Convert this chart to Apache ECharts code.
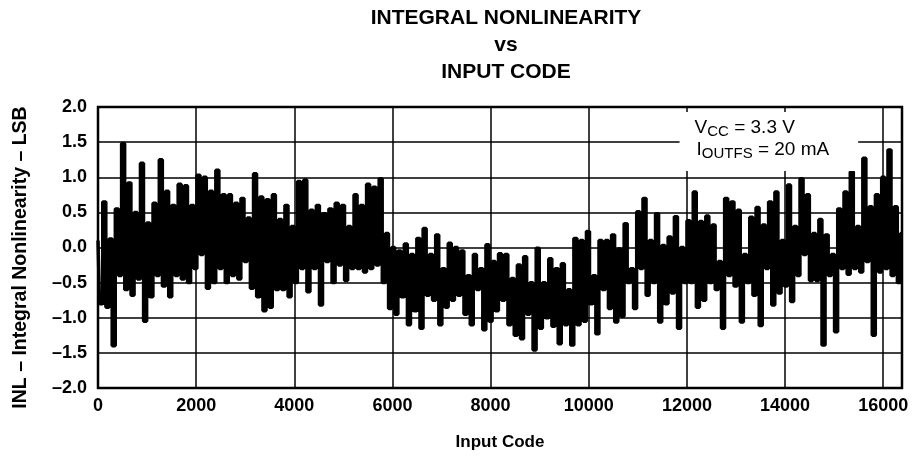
<!DOCTYPE html>
<html>
<head>
<meta charset="utf-8">
<script src="https://cdn.jsdelivr.net/npm/echarts@6/dist/echarts.min.js"></script>
<style>
  html, body { margin: 0; padding: 0; background: #fff; }
  #inlChart { width: 912px; height: 462px; }
</style>
</head>
<body>
<div id="inlChart"></div>
<script>
// INL vs input code, one reading every 64 codes
var codeStep = 64;
var lastCode = 16383;
var inl = [
    0.1, -0.8, 0.65, -0.85, 0.12, -1.4, 0.55, -0.4, 1.48, -0.6,
    0.92, -0.68, 0.5, -0.45, 1.2, -1.05, 0.35, -0.7, 0.63, -0.4,
    1.25, -0.55, 0.8, -0.7, 0.6, -0.4, 0.9, -0.45, 0.88, -0.5,
    0.6, -0.3, 1.03, -0.1, 1.0, -0.58, 0.8, -0.5, 1.1, -0.3,
    0.75, -0.5, 0.75, -0.4, 0.63, -0.45, 0.7, -0.2, 0.42, -0.58,
    1.05, -0.7, 0.72, -0.9, 0.68, -0.85, 0.75, -0.6, 0.4, -0.6,
    0.6, -0.7, 0.3, -0.5,
    // 4096 - 8128
    0.94, -0.3, 0.96, -0.63, 0.53, -0.3, 0.6, -0.82, 0.48, -0.2,
    0.55, -0.5, 0.63, -0.25, 0.6, -0.47, 0.3, -0.3, 0.75, -0.3,
    0.6, -0.35, 0.9, -0.3, 0.86, -0.25, 0.98, -0.5, 0.2, -0.87,
    0.0, -0.95, -0.05, -0.7, 0.05, -1.1, -0.1, -0.9, 0.13, -1.15,
    0.27, -0.68, -0.1, -0.75, 0.18, -1.1, -0.3, -0.85, 0.06, -0.75,
    0.0, -0.68, -0.05, -0.95, -0.4, -1.1, -0.1, -0.6, -0.3, -1.17,
    0.04, -1.05, -0.2, -0.9,
    // 8192 - 12224
    -0.09, -0.75, -0.1, -1.1, -0.44, -1.25, -0.25, -1.3, -0.13, -0.95,
    -0.5, -1.46, -0.01, -1.15, -0.5, -1.0, -0.16, -1.12, -0.3, -1.37,
    -0.23, -1.1, -0.6, -1.39, 0.13, -1.1, 0.1, -1.05, 0.23, -0.8,
    -0.4, -1.23, 0.1, -0.6, 0.1, -0.87, 0.18, -1.06, -0.02, -0.98,
    0.34, -0.5, -0.3, -0.87, 0.51, -0.3, 0.7, -0.68, 0.1, -0.5,
    0.48, -1.06, 0.03, -0.8, 0.15, -0.65, 0.44, -1.15, 0.0, -0.5,
    0.38, -0.5, 0.79, -0.85,
    // 12288 - 16383
    0.37, -0.75, 0.45, -0.5, 0.32, -0.6, -0.2, -1.15, 0.7, -0.4,
    0.65, -0.55, 0.53, -1.06, -0.1, -0.5, 0.43, -0.68, 0.57, -1.11,
    0.32, -0.3, 0.65, -0.82, 0.79, -0.65, 0.1, -0.55, 0.89, -0.77,
    0.3, -0.4, 0.98, -0.1, 0.75, -0.47, 0.2, -0.47, 0.4, -1.39,
    0.18, -0.4, -0.1, -1.2, 0.55, -0.3, 0.79, -0.38, 1.08, -0.3,
    0.3, -0.35, 1.27, -0.2, 0.58, -1.25, 0.75, -0.35, 1.0, -0.3,
    1.39, -0.4, 0.58, -0.5, 0.2
];
var xTicks = [0, 2000, 4000, 6000, 8000, 10000, 12000, 14000, 16000];
var yTicks = [-2.0, -1.5, -1.0, -0.5, 0.0, 0.5, 1.0, 1.5, 2.0];
var titleLines = ['INTEGRAL NONLINEARITY', 'vs', 'INPUT CODE'];

var inlData = inl.map(function (v, i) {
    return [Math.min(i * codeStep, lastCode), v];
});

var fontFam = '"Liberation Sans", Arial, sans-serif';
var inlChart = echarts.init(document.getElementById('inlChart'));
var inlChart_option = {
    animation: false,
    backgroundColor: '#fff',
    grid: {
        left: 98,
        right: 10,
        top: 107,
        bottom: 74,
        show: true,
        borderColor: '#000',
        borderWidth: 2.5
    },
    xAxis: {
        type: 'value',
        min: xTicks[0],
        max: lastCode,
        interval: 2000,
        name: 'Input Code',
        nameLocation: 'middle',
        nameGap: 46,
        nameTextStyle: { color: '#000', fontSize: 17, fontWeight: 'bold', fontFamily: fontFam },
        axisLine: { show: false },
        axisTick: { show: false },
        axisLabel: {
            color: '#000', fontSize: 18, fontWeight: 'bold', fontFamily: fontFam,
            margin: 9, showMaxLabel: false,
            formatter: function (v) { return xTicks.indexOf(v) >= 0 ? String(v) : ''; }
        },
        splitLine: { show: true, lineStyle: { color: '#000', width: 1.5 } }
    },
    yAxis: {
        type: 'value',
        min: yTicks[0],
        max: yTicks[yTicks.length - 1],
        interval: 0.5,
        name: 'INL – Integral Nonlinearity – LSB',
        nameLocation: 'middle',
        nameGap: 67,
        nameTextStyle: {
            color: '#000', fontSize: 19.5, fontWeight: 'bold', fontFamily: fontFam,
            padding: [0, 20, 0, 0]
        },
        axisLine: { show: false },
        axisTick: { show: false },
        axisLabel: {
            color: '#000', fontSize: 18, fontWeight: 'bold', fontFamily: fontFam,
            margin: 11,
            formatter: function (v) {
                return (v < 0 ? '–' : '') + Math.abs(v).toFixed(1);
            }
        },
        splitLine: { show: true, lineStyle: { color: '#000', width: 1.5 } }
    },
    series: [
        {
            name: 'INL',
            type: 'line',
            step: 'middle',
            symbol: 'none',
            data: inlData,
            lineStyle: { color: '#000', width: 3.4 }
        }
    ]
};
inlChart.setOption(inlChart_option);

// title and the VCC / IOUTFS note, placed from the axes
var p0 = inlChart.convertToPixel({ gridIndex: 0 }, [0, 2]);
var p1 = inlChart.convertToPixel({ gridIndex: 0 }, [lastCode, -2]);
var midX = (p0[0] + p1[0]) / 2 + 6;
var boxA = inlChart.convertToPixel({ gridIndex: 0 }, [11850, 1.93]);
var boxB = inlChart.convertToPixel({ gridIndex: 0 }, [15490, 1.09]);
var subRich = {
    n: { fontSize: 19, fontFamily: fontFam, color: '#000', lineHeight: 21 },
    s: { fontSize: 15, fontFamily: fontFam, color: '#000', height: 12, lineHeight: 12, verticalAlign: 'bottom' }
};
inlChart.setOption({
    graphic: [
        {
            type: 'text', z: 10, x: midX, y: 5,
            style: {
                text: titleLines.join('\n'),
                align: 'center', lineHeight: 27,
                font: 'bold 21px ' + fontFam, fill: '#000'
            }
        },
        {
            type: 'rect', z: 100,
            shape: { x: boxA[0], y: boxA[1], width: boxB[0] - boxA[0], height: boxB[1] - boxA[1] },
            style: { fill: '#fff' }
        },
        {
            type: 'text', z: 101, x: boxA[0] + 15, y: boxA[1] + 5,
            style: { text: '{n|V}{s|CC}{n| = 3.3 V}', rich: subRich }
        },
        {
            type: 'text', z: 101, x: boxA[0] + 17, y: boxA[1] + 27,
            style: { text: '{n|I}{s|OUTFS}{n| = 20 mA}', rich: subRich }
        }
    ]
});
</script>
</body>
</html>
